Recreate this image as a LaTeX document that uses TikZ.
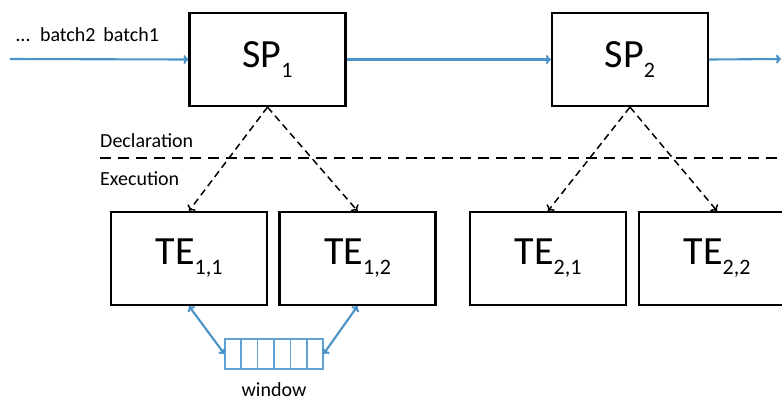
\documentclass[tikz,border=0pt]{standalone}
\usepackage{fontspec}
\setmainfont{Carlito}
\usetikzlibrary{arrows.meta,calc}
\definecolor{flow}{RGB}{74,146,200}
\definecolor{cell}{RGB}{96,160,210}
\newcommand{\bigtxt}[2]{{\fontsize{40}{40}\selectfont #1\raisebox{-10pt}{\fontsize{22}{22}\selectfont #2}}}
\tikzset{
  opbox/.style={draw, line width=2.2pt, minimum width=156pt, minimum height=93pt, inner sep=0pt},
  flowarrow/.style={draw=flow, line width=2.1pt, -{To[length=5pt,width=9pt]}},
  winarrow/.style={draw=flow, line width=2.1pt, {To[length=5pt,width=9pt]}-{To[length=5pt,width=9pt]}},
  spawn/.style={draw, line width=1.5pt, dash pattern=on 7pt off 4.5pt, -{To[length=5pt,width=10pt]}},
  label/.style={font=\fontsize{20}{20}\selectfont, anchor=base west, inner sep=0pt},
}
\begin{document}
\begin{tikzpicture}[x=1pt,y=-1pt]
  \useasboundingbox (0,0) rectangle (782,400);
  \clip (0,0) rectangle (782,400);

  % stream processors
  \node[opbox] (sp1) at (267.5,59.5) {\bigtxt{SP}{1}};
  \node[opbox] (sp2) at (630,59.5) {\bigtxt{SP}{2}};

  % task executors
  \node[opbox] (te11) at (189,258.5) {\bigtxt{TE}{1,1}};
  \node[opbox] (te12) at (357.5,258.5) {\bigtxt{TE}{1,2}};
  \node[opbox] (te21) at (548,258.5) {\bigtxt{TE}{2,1}};
  \node[opbox] (te22) at (717,258.5) {\bigtxt{TE}{2,2}};

  % batch stream
  \coordinate (in) at (10,59);
  \coordinate (out) at (781,59);
  \node[label] (batches) at (16,41) {…\hspace{10pt}batch2\hspace{8pt}batch1};
  \draw[flowarrow] (in) -- (sp1.west);
  \draw[flowarrow] (sp1.east) -- (sp2.west);
  \draw[flowarrow] (sp2.east) -- (out);

  % declaration / execution boundary
  \coordinate (sepL) at (100,158);
  \coordinate (sepR) at (782,158);
  \draw[line width=2.2pt, dash pattern=on 11pt off 7pt] (sepL) -- (sepR);
  \node[label] (decl) at (100,147) {Declaration};
  \node[label] (exec) at (100,185) {Execution};

  % spawning of executors
  \draw[spawn] (sp1.south) -- (te11.north);
  \draw[spawn] (sp1.south) -- (te12.north);
  \draw[spawn] (sp2.south) -- (te21.north);
  \draw[spawn] (sp2.south) -- (te22.north);

  % shared window buffer
  \node[draw=cell, line width=1.1pt, minimum width=98pt, minimum height=30pt, inner sep=0pt] (win) at (274,354) {};
  \foreach \i in {1,...,5} {
    \draw[cell, line width=1.4pt] ($(win.south west)!\i/6!(win.south east)$) -- ($(win.north west)!\i/6!(win.north east)$);
  }
  \node[font=\fontsize{20}{20}\selectfont, anchor=base, inner sep=0pt] (wlabel) at (274,396) {window};
  \draw[winarrow] (te11.south) -- (win.west);
  \draw[winarrow] (te12.south) -- (win.east);
\end{tikzpicture}
\end{document}
